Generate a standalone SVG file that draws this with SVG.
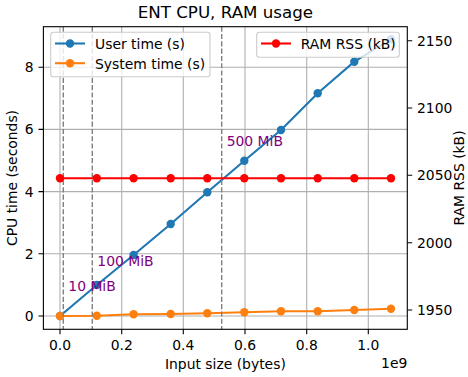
<svg xmlns="http://www.w3.org/2000/svg" width="468" height="377" viewBox="0 0 468 377">
  <style>
    text { font-family: "DejaVu Sans", "Liberation Sans", sans-serif; font-size: 13.9px; fill: #000; }
    .title { font-size: 16.7px; }
    .grid { stroke: #b0b0b0; stroke-width: 1.1; fill: none; }
    .spine { stroke: #000; stroke-width: 1.1; fill: none; }
    .tick { stroke: #000; stroke-width: 1.1; }
    .mark { stroke: #808080; stroke-width: 1.4; stroke-dasharray: 5.1 2.2; fill: none; }
    .user { stroke: #1f77b4; stroke-width: 2.1; fill: none; }
    .sys { stroke: #ff7f0e; stroke-width: 2.1; fill: none; }
    .rss { stroke: #ff0000; stroke-width: 2.1; fill: none; }
    .note { fill: #800080; }
    .legend-box { fill: #ffffff; fill-opacity: 0.8; stroke: #cccccc; stroke-width: 1.1; }
  </style>
  <defs>
    <circle id="dot" r="4.2"/>
  </defs>

  <rect width="468" height="377" fill="#ffffff"/>

  <text class="title" x="225.4" y="17.6" text-anchor="middle">ENT CPU, RAM usage</text>

  <!-- grid -->
  <g id="grid">
    <path class="grid" d="M60 26.7V329.3M121.7 26.7V329.3M183.3 26.7V329.3M245 26.7V329.3M306.7 26.7V329.3M368.3 26.7V329.3"/>
    <path class="grid" d="M43.4 316H407.3M43.4 253.8H407.3M43.4 191.6H407.3M43.4 129.4H407.3M43.4 67.2H407.3"/>
  </g>

  <!-- series on the left axis -->
  <g id="connectors">
    <polyline id="user-time" class="user" points="60,316 96.8,285 133.6,255 170.7,224 207.3,192.3 244.3,160.7 281,130 317.7,93.3 354.3,61.7 391,39.3"/>
    <polyline id="system-time" class="sys" points="60,316 96.8,315.7 133.6,314.3 170.7,314 207.3,313.3 244.3,312.3 281,311.3 317.7,311.3 354.3,310 391,308.7"/>
  </g>
  <g id="user-points" fill="#1f77b4">
    <use href="#dot" x="60" y="316"/>
    <use href="#dot" x="96.8" y="285"/>
    <use href="#dot" x="133.6" y="255"/>
    <use href="#dot" x="170.7" y="224"/>
    <use href="#dot" x="207.3" y="192.3"/>
    <use href="#dot" x="244.3" y="160.7"/>
    <use href="#dot" x="281" y="130"/>
    <use href="#dot" x="317.7" y="93.3"/>
    <use href="#dot" x="354.3" y="61.7"/>
    <use href="#dot" x="391" y="39.3"/>
  </g>
  <g id="system-points" fill="#ff7f0e">
    <use href="#dot" x="60" y="316"/>
    <use href="#dot" x="96.8" y="315.7"/>
    <use href="#dot" x="133.6" y="314.3"/>
    <use href="#dot" x="170.7" y="314"/>
    <use href="#dot" x="207.3" y="313.3"/>
    <use href="#dot" x="244.3" y="312.3"/>
    <use href="#dot" x="281" y="311.3"/>
    <use href="#dot" x="317.7" y="311.3"/>
    <use href="#dot" x="354.3" y="310"/>
    <use href="#dot" x="391" y="308.7"/>
  </g>

  <!-- size markers -->
  <g id="size-markers">
    <path class="mark" d="M63.3 26.7V329.3M92.3 26.7V329.3M221.7 26.7V329.3"/>
    <text class="note" x="68.3" y="291.3">10 MiB</text>
    <text class="note" x="97.3" y="265.6">100 MiB</text>
    <text class="note" x="226.7" y="146">500 MiB</text>
  </g>

  <!-- left legend -->
  <g id="legend-time">
    <rect class="legend-box" x="50.7" y="32.3" width="159.3" height="44.4" rx="2.8"/>
    <path class="user" d="M55 43.5H85"/>
    <use href="#dot" x="70" y="43.5" fill="#1f77b4"/>
    <text x="95" y="48.8">User time (s)</text>
    <path class="sys" d="M55 63.2H85"/>
    <use href="#dot" x="70" y="63.2" fill="#ff7f0e"/>
    <text x="95" y="68.5">System time (s)</text>
  </g>

  <!-- series on the right axis -->
  <g id="rss">
    <polyline class="rss" points="60,178.3 391,178.3"/>
    <g fill="#ff0000">
      <use href="#dot" x="60" y="178.3"/>
      <use href="#dot" x="96.8" y="178.3"/>
      <use href="#dot" x="133.6" y="178.3"/>
      <use href="#dot" x="170.7" y="178.3"/>
      <use href="#dot" x="207.3" y="178.3"/>
      <use href="#dot" x="244.3" y="178.3"/>
      <use href="#dot" x="281" y="178.3"/>
      <use href="#dot" x="317.7" y="178.3"/>
      <use href="#dot" x="354.3" y="178.3"/>
      <use href="#dot" x="391" y="178.3"/>
    </g>
  </g>

  <!-- right legend -->
  <g id="legend-rss">
    <rect class="legend-box" x="256.7" y="32.3" width="142.6" height="25" rx="2.8"/>
    <path class="rss" d="M261 43.5H291"/>
    <use href="#dot" x="276" y="43.5" fill="#ff0000"/>
    <text x="300.7" y="48.8">RAM RSS (kB)</text>
  </g>

  <!-- frame and axes -->
  <g id="axes">
    <rect class="spine" x="43.4" y="26.7" width="363.9" height="302.6"/>
    <path class="tick" d="M60 329.3v4.9M121.7 329.3v4.9M183.3 329.3v4.9M245 329.3v4.9M306.7 329.3v4.9M368.3 329.3v4.9"/>
    <path class="tick" d="M43.4 316h-4.9M43.4 253.8h-4.9M43.4 191.6h-4.9M43.4 129.4h-4.9M43.4 67.2h-4.9"/>
    <path class="tick" d="M407.3 310h4.9M407.3 242.7h4.9M407.3 175.3h4.9M407.3 108h4.9M407.3 40.7h4.9"/>
    <g text-anchor="middle">
      <text x="60" y="350">0.0</text>
      <text x="121.7" y="350">0.2</text>
      <text x="183.3" y="350">0.4</text>
      <text x="245" y="350">0.6</text>
      <text x="306.7" y="350">0.8</text>
      <text x="368.3" y="350">1.0</text>
    </g>
    <text x="407.3" y="368.3" text-anchor="end">1e9</text>
    <text x="225.4" y="369.2" text-anchor="middle">Input size (bytes)</text>
    <g text-anchor="end">
      <text x="33.6" y="321">0</text>
      <text x="33.6" y="258.8">2</text>
      <text x="33.6" y="196.6">4</text>
      <text x="33.6" y="134.4">6</text>
      <text x="33.6" y="72.2">8</text>
    </g>
    <g>
      <text x="417" y="315">1950</text>
      <text x="417" y="247.7">2000</text>
      <text x="417" y="180.3">2050</text>
      <text x="417" y="113">2100</text>
      <text x="417" y="45.7">2150</text>
    </g>
    <text transform="translate(16.7 178) rotate(-90)" text-anchor="middle">CPU time (seconds)</text>
    <text transform="translate(463.5 178) rotate(-90)" text-anchor="middle">RAM RSS (kB)</text>
  </g>
</svg>
